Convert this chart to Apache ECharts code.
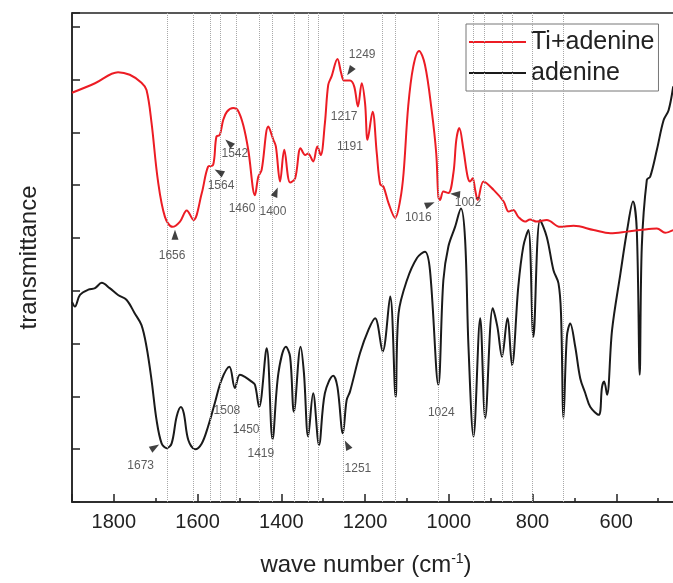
<!DOCTYPE html>
<html>
<head>
<meta charset="utf-8">
<script src="https://cdn.jsdelivr.net/npm/echarts@6/dist/echarts.min.js"></script>
<style>
  html, body { margin: 0; padding: 0; background: #fff; }
  #chart { width: 673px; height: 583px; }
</style>
</head>
<body>
<div id="chart"></div>
<script>
// spectra: [wave number, transmittance (a.u.)]
const tiAdenine = [
  [1900,7.75],[1845,7.93],[1790,8.14],[1762,8.09],[1734,7.94],[1722,7.80],[1710,7.18],[1695,6.10],
  [1678,5.40],[1660,5.21],[1642,5.31],[1626,5.52],[1610,5.34],[1590,5.85],[1575,6.35],[1563,6.38],
  [1555,6.92],[1547,6.95],[1539,7.23],[1530,7.39],[1515,7.46],[1504,7.42],[1491,7.14],[1479,6.67],
  [1463,5.81],[1455,6.16],[1447,6.29],[1431,7.11],[1419,6.86],[1413,6.73],[1403,6.07],[1393,6.67],
  [1379,6.05],[1367,6.13],[1354,6.70],[1343,6.57],[1336,6.60],[1324,6.45],[1314,6.73],[1306,6.57],
  [1296,7.17],[1288,7.90],[1280,8.06],[1266,8.39],[1257,8.12],[1250,7.98],[1236,7.98],[1226,7.87],
  [1217,7.49],[1208,7.93],[1200,7.55],[1194,6.86],[1182,7.39],[1172,6.60],[1164,6.02],[1156,5.97],
  [1144,5.66],[1128,5.38],[1116,5.72],[1108,6.23],[1097,7.49],[1085,8.24],[1071,8.54],[1057,8.28],
  [1041,7.42],[1030,6.60],[1025,5.78],[1021,5.72],[1013,5.88],[1001,5.85],[989,6.23],[982,6.86],
  [975,7.08],[965,6.67],[955,6.16],[949,6.07],[943,6.13],[937,5.91],[931,5.72],[917,6.07],
  [893,5.91],[869,5.69],[857,5.50],[846,5.53],[834,5.40],[818,5.31],[806,5.35],[790,5.31],
  [766,5.34],[734,5.21],[702,5.23],[654,5.15],[614,5.09],[574,5.12],[543,5.15],[503,5.18],
  [483,5.10],[464,5.15]
];

const adenine = [
  [1900,3.79],[1893,3.70],[1881,3.92],[1861,4.02],[1845,4.05],[1829,4.15],[1810,4.05],[1790,3.92],
  [1770,3.83],[1750,3.57],[1734,3.35],[1722,2.94],[1710,2.31],[1698,1.55],[1686,1.11],[1674,1.02],
  [1662,1.11],[1650,1.62],[1640,1.80],[1633,1.68],[1622,1.17],[1606,1.00],[1590,1.11],[1575,1.43],
  [1559,1.87],[1543,2.31],[1524,2.56],[1511,2.16],[1499,2.41],[1487,2.37],[1471,2.28],[1463,2.22],
  [1453,1.80],[1435,2.91],[1421,1.19],[1407,2.44],[1389,2.94],[1379,2.75],[1370,1.71],[1354,2.94],
  [1346,2.44],[1336,1.24],[1324,2.06],[1310,1.08],[1296,2.06],[1276,2.39],[1266,2.18],[1253,1.30],
  [1244,1.93],[1236,2.09],[1212,2.82],[1192,3.26],[1176,3.48],[1158,2.85],[1140,3.89],[1127,1.99],
  [1120,3.57],[1100,4.20],[1076,4.62],[1057,4.74],[1045,4.39],[1025,2.22],[1013,4.20],[1001,4.84],
  [985,5.21],[971,5.56],[961,4.96],[953,2.94],[941,1.24],[925,3.48],[913,1.59],[895,3.67],
  [884,3.32],[873,2.75],[860,3.48],[849,2.59],[834,4.08],[822,4.84],[810,5.15],[798,3.13],
  [782,5.34],[766,5.02],[750,4.39],[738,4.14],[732,3.57],[726,1.59],[718,3.13],[710,3.38],
  [698,2.94],[686,2.34],[674,2.06],[662,1.80],[642,1.65],[634,2.18],[629,2.28],[622,2.03],
  [610,3.26],[590,4.33],[574,5.15],[560,5.69],[551,5.15],[544,2.41],[539,4.84],[527,6.10],
  [519,6.16],[503,6.67],[487,7.23],[475,7.42],[464,7.87]
];

// dotted guide lines (wave number)
const guideLines = [1672, 1610, 1569, 1547, 1508, 1453, 1421, 1370, 1336, 1312,
                    1252, 1159, 1128, 1026, 941, 916, 872, 849, 800, 726];

// peak labels: [x, y, text]
const peakLabels = [
  [1661, 4.66, '1656'], [1544, 5.99, '1564'], [1511, 6.59, '1542'], [1494, 5.56, '1460'],
  [1420, 5.50, '1400'], [1207, 8.47, '1249'], [1250, 7.30, '1217'], [1236, 6.73, '1191'],
  [1073, 5.38, '1016'], [954, 5.66, '1002'],
  [1736, 0.68, '1673'], [1530, 1.72, '1508'], [1484, 1.36, '1450'], [1449, 0.91, '1419'],
  [1217, 0.64, '1251'], [1018, 1.69, '1024']
];

// arrow heads: [x, y, rotation]
const arrows = [
  [1654, 5.06, 0], [1549, 6.25, 61], [1525, 6.80, 48], [1413, 5.87, -22],
  [1236, 8.16, 146], [1045, 5.64, -68], [985, 5.83, 85],
  [1702, 1.04, -59], [1243, 1.08, 27]
];

const chart = echarts.init(document.getElementById('chart'));
const font = 'Liberation Sans, Arial, sans-serif';

chart.setOption({
  backgroundColor: '#fff',
  animation: false,
  textStyle: { fontFamily: font },
  grid: {
    left: 72, top: 13, right: -27, bottom: 81,
    containLabel: false,
    outerBoundsMode: 'none',
    show: true, borderColor: '#222', borderWidth: 1.5
  },
  legend: {
    data: ['Ti+adenine', 'adenine'],
    orient: 'vertical',
    left: 466, top: 24,
    icon: 'rect',
    itemWidth: 57, itemHeight: 2, itemGap: 1,
    padding: [3, 4, 3, 3],
    borderColor: '#777', borderWidth: 1,
    backgroundColor: '#fff',
    textStyle: { fontSize: 25, color: '#222', fontFamily: font, lineHeight: 30 }
  },
  xAxis: {
    type: 'value',
    inverse: true,
    min: 400, max: 1900, interval: 200,
    axisLine: { lineStyle: { color: '#222', width: 1.5 } },
    axisTick: { inside: true, length: 8, lineStyle: { color: '#222', width: 1.5 } },
    minorTick: { show: true, splitNumber: 2, length: 4, lineStyle: { color: '#222', width: 1.5 } },
    splitLine: { show: false },
    axisLabel: { fontSize: 20, color: '#222', margin: 10, fontFamily: font, formatter: v => String(v) },
    name: 'wave number (cm{sup|-1})',
    nameLocation: 'middle',
    nameGap: 50,
    nameTextStyle: {
      fontSize: 24, color: '#222', fontFamily: font,
      padding: [0, 40, 0, 0],
      rich: { sup: { fontSize: 14, color: '#222', padding: [0, 0, 12, 0], fontFamily: font } }
    }
  },
  yAxis: {
    type: 'value',
    min: 0, max: 9.26, interval: 1,
    axisLine: { show: true, lineStyle: { color: '#222', width: 1.5 } },
    axisTick: { show: true, inside: true, length: 8, lineStyle: { color: '#222', width: 1.5 } },
    axisLabel: { show: false },
    splitLine: { show: false },
    name: 'transmittance',
    nameLocation: 'middle',
    nameRotate: 90,
    nameGap: 31,
    nameTextStyle: { fontSize: 24, color: '#222', fontFamily: font }
  },
  series: [
    {
      name: 'adenine',
      type: 'line',
      data: adenine,
      symbol: 'none',
      smooth: 0.35,
      z: 3,
      lineStyle: { color: '#1a1a1a', width: 2 },
      itemStyle: { color: '#1a1a1a' },
      markLine: {
        silent: true,
        symbol: 'none',
        label: { show: false },
        lineStyle: { type: 'dotted', color: '#a8a8a8', width: 1 },
        data: guideLines.map(w => ({ xAxis: w }))
      }
    },
    {
      name: 'Ti+adenine',
      type: 'line',
      data: tiAdenine,
      symbol: 'none',
      smooth: 0.35,
      z: 4,
      lineStyle: { color: '#ec1c24', width: 2 },
      itemStyle: { color: '#ec1c24' }
    },
    {
      name: 'labels',
      type: 'scatter',
      silent: true,
      symbolSize: 0,
      z: 5,
      data: peakLabels.map(d => [d[0], d[1], d[2]]),
      label: {
        show: true,
        position: 'inside',
        formatter: p => p.data[2],
        fontSize: 12,
        color: '#333',
        fontFamily: font
      }
    },
    {
      name: 'arrows',
      type: 'scatter',
      silent: true,
      symbol: 'triangle',
      symbolSize: [7, 10],
      z: 5,
      itemStyle: { color: '#111' },
      data: arrows.map(a => ({ value: [a[0], a[1]], symbolRotate: a[2] }))
    }
  ]
});
</script>
</body>
</html>
